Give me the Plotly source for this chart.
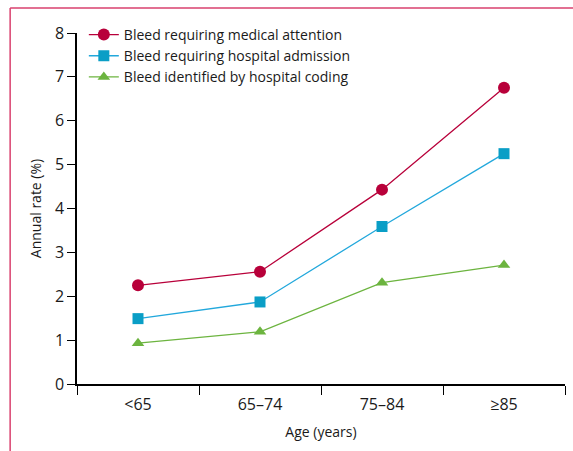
import plotly.graph_objects as go

categories = ["<65", "65–74", "75–84", "≥85"]
medical_attention = [2.25, 2.56, 4.43, 6.75]
hospital_admission = [1.49, 1.87, 3.59, 5.25]
hospital_coding = [0.93, 1.19, 2.31, 2.71]
y_ticks = [0, 1, 2, 3, 4, 5, 6, 7, 8]

FONT = "Open Sans"

fig = go.Figure()
fig.add_trace(go.Scatter(
    x=categories, y=medical_attention, mode="lines+markers",
    name="Bleed requiring medical attention",
    line=dict(color="#b8003a", width=1.3),
    marker=dict(symbol="circle", size=12, color="#b8003a"),
))
fig.add_trace(go.Scatter(
    x=categories, y=hospital_admission, mode="lines+markers",
    name="Bleed requiring hospital admission",
    line=dict(color="#22a8dc", width=1.3),
    marker=dict(symbol="square", size=11, color="#0a9ec6"),
))
fig.add_trace(go.Scatter(
    x=categories, y=hospital_coding, mode="lines+markers",
    name="Bleed identified by hospital coding",
    line=dict(color="#6cb43f", width=1.3),
    marker=dict(symbol="triangle-up", size=11, color="#6cb43f"),
))

fig.update_layout(
    width=573, height=451,
    margin=dict(l=77, r=8, t=33, b=67),
    paper_bgcolor="white", plot_bgcolor="white",
    font=dict(family=FONT, size=14, color="#1a1a1a"),
    showlegend=True,
    legend=dict(
        x=0.014, y=1.04, xanchor="left", yanchor="top",
        bgcolor="rgba(0,0,0,0)", font=dict(size=14, family=FONT),
        tracegroupgap=0, itemwidth=30,
    ),
    xaxis=dict(
        type="category", range=[-0.5, 3.5],
        tickson="boundaries", ticks="outside", ticklen=9, tickwidth=1.3,
        tickcolor="black", showline=True, linecolor="black", linewidth=1.5,
        showgrid=False, zeroline=False, ticklabelstandoff=5,
        tickfont=dict(size=16, family=FONT),
        title=dict(text="Age (years)", font=dict(size=14, family=FONT), standoff=13),
    ),
    yaxis=dict(
        range=[0, 8], tickvals=y_ticks, ticks="outside", ticklen=8, tickwidth=1.3,
        tickcolor="black", showline=True, linecolor="black", linewidth=1.5,
        showgrid=False, zeroline=False,
        tickfont=dict(size=16, family=FONT),
        title=dict(text="Annual rate (%)", font=dict(size=14, family=FONT), standoff=10),
    ),
    shapes=[
        dict(type="line", xref="paper", yref="paper",
             x0=-0.137, x1=1.02, y0=1.071, y1=1.071,
             line=dict(color="#d9416e", width=1.5)),
        dict(type="line", xref="paper", yref="paper",
             x0=-0.137, x1=-0.137, y0=-0.2, y1=1.071,
             line=dict(color="#d9416e", width=1.5)),
    ],
)

fig.write_html("out.html", config={"displayModeBar": False},
               post_script="document.body.style.margin='0';")
